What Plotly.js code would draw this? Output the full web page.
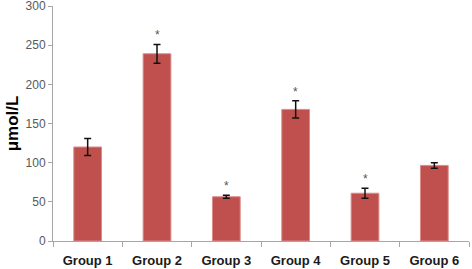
<!DOCTYPE html>
<html>
<head>
<meta charset="utf-8">
<script src="https://cdn.plot.ly/plotly-3.0.1.min.js"></script>
<style>html,body{margin:0;padding:0;background:#fff;}#chart{width:472px;height:269px;}</style>
</head>
<body>
<div id="chart"></div>
<script>
const categories = ["Group 1","Group 2","Group 3","Group 4","Group 5","Group 6"];
const values = [120, 239, 56.5, 168, 61, 96.5];
const errors = [11, 12, 2, 11, 6.5, 3.5];
const significant = [false, true, true, true, true, false];
const yTickVals = [0, 50, 100, 150, 200, 250, 300];

const annotations = [];
categories.forEach((c, i) => {
  if (significant[i]) {
    annotations.push({
      x: c, y: values[i] + errors[i], xref: 'x', yref: 'y',
      text: '*', showarrow: false, yshift: 9,
      font: {family: 'Liberation Sans, Arial, sans-serif', size: 12, color: '#555'}
    });
  }
});

const trace = {
  type: 'bar',
  x: categories,
  y: values,
  marker: {color: '#C0504D', line: {color: '#D98C8A', width: 1}},
  error_y: {type: 'data', array: errors, visible: true, color: '#111', thickness: 1.5, width: 3.5},
  hoverinfo: 'none'
};

const layout = {
  width: 472, height: 269,
  margin: {l: 53, r: 3, t: 6, b: 28},
  paper_bgcolor: '#fff', plot_bgcolor: '#fff',
  showlegend: false,
  bargap: 0.6,
  xaxis: {
    type: 'category',
    showline: true, linecolor: '#a6a6a6', linewidth: 1,
    ticks: 'outside', ticklen: 5, tickcolor: '#a6a6a6', tickson: 'boundaries',
    ticklabelstandoff: 7,
    showgrid: false, zeroline: false,
    tickfont: {family: 'Liberation Sans, Arial, sans-serif', size: 13, color: '#1a1a1a', weight: 'bold'}
  },
  yaxis: {
    range: [0, 300], tickvals: yTickVals,
    showline: true, linecolor: '#a6a6a6', linewidth: 1,
    ticks: 'outside', ticklen: 4, tickcolor: '#a6a6a6',
    ticklabeloverflow: 'allow',
    showgrid: false, zeroline: false,
    tickfont: {family: 'Liberation Sans, Arial, sans-serif', size: 12, color: '#595959'},
    title: {text: 'μmol/L', standoff: 2, font: {family: 'Liberation Sans, Arial, sans-serif', size: 17, color: '#000', weight: 'bold'}}
  },
  annotations: annotations
};

Plotly.newPlot('chart', [trace], layout, {staticPlot: true, displayModeBar: false});
</script>
</body>
</html>
